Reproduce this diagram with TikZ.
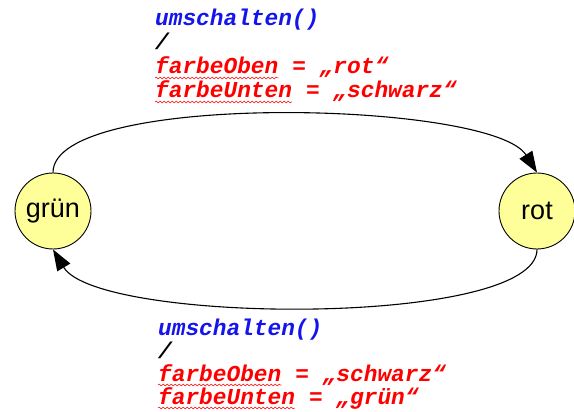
\documentclass[tikz,border=0pt]{standalone}
\usepackage{fontspec}
\usetikzlibrary{arrows.meta,decorations.pathmorphing,positioning}
\newfontfamily\codefont{Liberation Mono}
\newfontfamily\statefont{Liberation Sans}
\definecolor{stateyellow}{RGB}{255,255,153}
\definecolor{eventblue}{RGB}{20,20,235}
\definecolor{actionred}{RGB}{255,0,0}

\begin{document}
\begin{tikzpicture}[x=1pt,y=-1pt,
  state/.style={circle,draw,fill=stateyellow,line width=0.9pt,minimum size=76pt,inner sep=0pt,font=\statefont\fontsize{27}{30}\selectfont},
  codetext/.style={inner sep=0pt,anchor=base west,font=\codefont\bfseries\itshape\fontsize{22.8}{25}\selectfont},
  eventtext/.style={codetext,text=eventblue},
  actiontext/.style={codetext,text=actionred},
  trans/.style={line width=1.1pt,-{Triangle[length=21pt,width=15pt]}},
  wavy/.style={actionred,line width=0.5pt,decorate,decoration={snake,amplitude=0.9pt,segment length=4pt}}]
\useasboundingbox (0,0) rectangle (574,412);
% states
\node[state] at (53,211) (gruen) {grün};
\node[state] at (537,211) (rot) {rot};
% transitions
\draw[trans] (gruen.north) .. controls +(0,-82) and +(-45,-72) .. (rot.north);
\draw[trans] (rot.south) .. controls +(0,78) and +(45,75) .. (gruen.south);
% upper label
\node[eventtext] at (155,26) (ev1) {umschalten()};
\node[codetext] at (155,50) (sl1) {/};
\node[actiontext] at (155,74) (var1) {farbeOben};
\node[actiontext] at (var1.base east) (val1) {\ = „rot“};
\node[actiontext] at (155,98) (var2) {farbeUnten};
\node[actiontext] at (var2.base east) (val2) {\ = „schwarz“};
\draw[wavy] ([yshift=-4pt]var1.base west) -- ([yshift=-4pt]var1.base east);
\draw[wavy] ([yshift=-4pt]var2.base west) -- ([yshift=-4pt]var2.base east);
% lower label
\node[eventtext] at (158,335) (ev2) {umschalten()};
\node[codetext] at (158,358) (sl2) {/};
\node[actiontext] at (158,381) (var3) {farbeOben};
\node[actiontext] at (var3.base east) (val3) {\ = „schwarz“};
\node[actiontext] at (158,404) (var4) {farbeUnten};
\node[actiontext] at (var4.base east) (val4) {\ = „grün“};
\draw[wavy] ([yshift=-4pt]var3.base west) -- ([yshift=-4pt]var3.base east);
\draw[wavy] ([yshift=-4pt]var4.base west) -- ([yshift=-4pt]var4.base east);
\end{tikzpicture}
\end{document}
